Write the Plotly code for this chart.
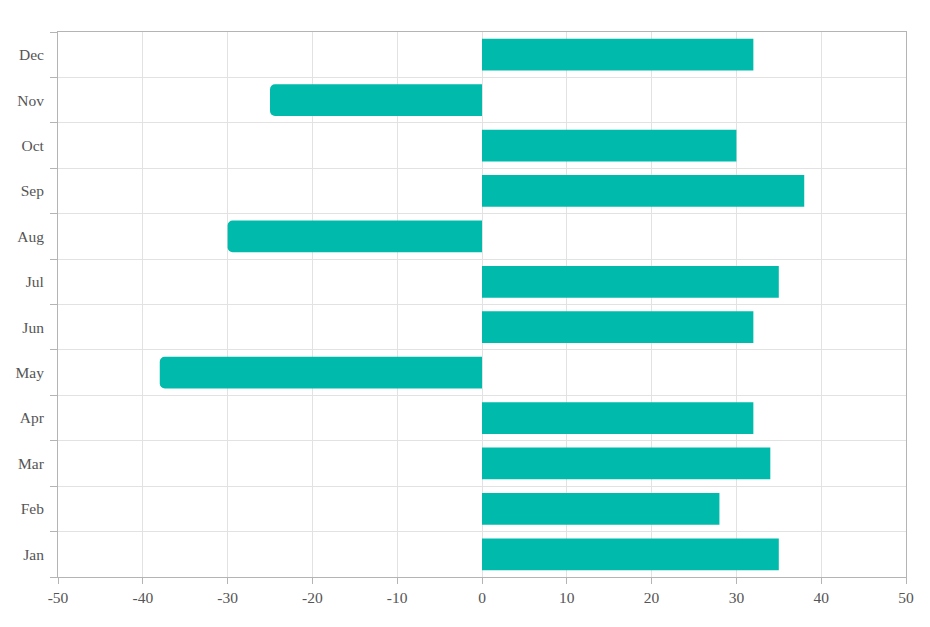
import plotly.graph_objects as go

months = ['Jan', 'Feb', 'Mar', 'Apr', 'May', 'Jun', 'Jul', 'Aug', 'Sep', 'Oct', 'Nov', 'Dec']
values = [35, 28, 34, 32, -38, 32, 35, -30, 38, 30, -25, 32]
x_ticks = [-50, -40, -30, -20, -10, 0, 10, 20, 30, 40, 50]
x_labels = ['-50', '-40', '-30', '-20', '-10', '0', '10', '20', '30', '40', '50']

bar_color = '#00bbab'

pos = [v if v >= 0 else None for v in values]
neg = [v if v < 0 else None for v in values]

fig = go.Figure()
# positive bars square, negative ones rounded at the end
fig.add_trace(go.Bar(y=months, x=pos, orientation='h', marker=dict(color=bar_color, line=dict(width=0))))
fig.add_trace(go.Bar(y=months, x=neg, orientation='h',
                     marker=dict(color=bar_color, line=dict(width=0), cornerradius=5)))

axis_font = dict(family='Liberation Serif, Times New Roman, serif', size=15.5, color='#555555')

# page body has an 8px default margin, so margins are shifted by 8
fig.update_layout(
    width=930, height=627,
    margin=dict(l=50, r=32, t=24, b=58),
    paper_bgcolor='white', plot_bgcolor='white',
    showlegend=False,
    barmode='overlay',
    bargap=0.3,
    font=axis_font,
)
fig.update_xaxes(
    range=[-50, 50], tickvals=x_ticks, ticktext=x_labels,
    showgrid=True, gridcolor='#e2e2e2', gridwidth=1,
    zeroline=False,
    showline=True, linecolor='#b4b4b4', linewidth=1, mirror=True,
    ticks='outside', ticklen=6, tickcolor='#b4b4b4',
    tickfont=axis_font, automargin=False,
)
fig.update_yaxes(
    categoryorder='array', categoryarray=months,
    tickson='boundaries',
    showgrid=True, gridcolor='#e2e2e2', gridwidth=1,
    showline=True, linecolor='#b4b4b4', linewidth=1, mirror=True,
    ticks='outside', ticklen=7, tickcolor='#b4b4b4',
    ticklabelstandoff=10,
    tickfont=axis_font, automargin=False,
)

fig.write_html("out.html")
